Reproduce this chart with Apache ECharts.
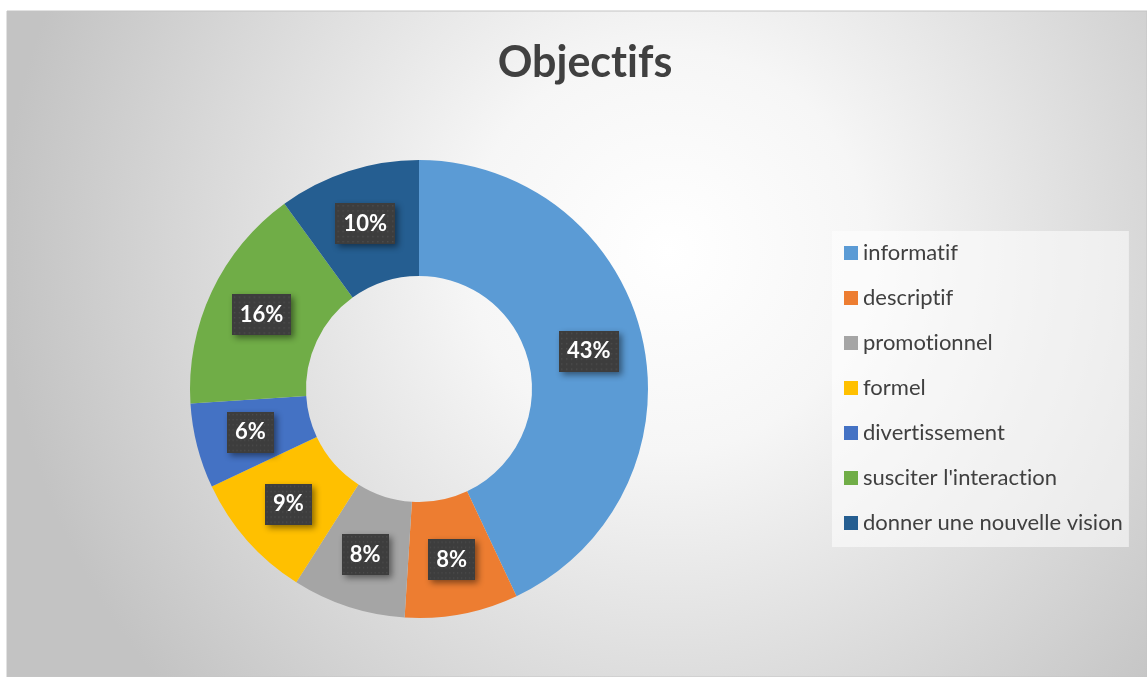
<!DOCTYPE html>
<html>
<head>
<meta charset="utf-8">
<script src="https://cdn.jsdelivr.net/npm/echarts@6/dist/echarts.min.js"></script>
<style>
html,body{margin:0;padding:0;background:#ffffff;}
#chart{width:1147px;height:677px;}
</style>
</head>
<body>
<div id="chart"></div>
<script>
const titleText = 'Objectifs';
const categories = ['informatif', 'descriptif', 'promotionnel', 'formel', 'divertissement', "susciter l'interaction", 'donner une nouvelle vision'];
const values = [43, 8, 8, 9, 6, 16, 10];
const colors = ['#5B9BD5', '#ED7D31', '#A5A5A5', '#FFC000', '#4472C4', '#70AD47', '#255E91'];

// break the Lato "ti" ligature (reference font has none)
const noLig = s => s.replace(/t(?=i)/g, 't\u200C');

// dotted dark label background
function makePattern() {
  const c = document.createElement('canvas');
  c.width = 60; c.height = 40;
  const g = c.getContext('2d');
  g.fillStyle = '#3d3d3d';
  g.fillRect(0, 0, 60, 40);
  g.fillStyle = '#4d4d4d';
  for (let y = 2; y < 40; y += 5) {
    for (let x = 2; x < 60; x += 5) {
      g.fillRect(x, y, 1.5, 1.5);
    }
  }
  return c;
}
const pattern = makePattern();

const chart = echarts.init(document.getElementById('chart'), null, {renderer: 'canvas'});
const font = 'Lato, "Open Sans", sans-serif';

chart.setOption({
  animation: false,
  graphic: [{
    type: 'rect',
    z: -10,
    silent: true,
    shape: {x: 7, y: 11, width: 1140, height: 666},
    style: {
      fill: {
        type: 'radial', x: 0.58, y: 0.36, r: 1.0,
        colorStops: [
          {offset: 0, color: '#ffffff'},
          {offset: 0.3, color: '#f6f6f6'},
          {offset: 1, color: '#c3c3c3'}
        ]
      },
      stroke: '#c4c4c4',
      lineWidth: 1
    }
  }],
  title: {
    text: noLig(titleText),
    left: 580,
    top: 37,
    textAlign: 'center',
    textStyle: {fontFamily: font, fontSize: 43, fontWeight: 'bold', color: '#404040'}
  },
  legend: {
    orient: 'vertical',
    left: 832,
    top: 231,
    padding: [11, 6, 13, 12],
    itemWidth: 14,
    itemHeight: 14,
    itemGap: 23,
    icon: 'rect',
    backgroundColor: 'rgba(255,255,255,0.55)',
    formatter: name => noLig(name),
    textStyle: {fontFamily: font, fontSize: 22, color: '#404040'},
    data: categories
  },
  series: [{
    type: 'pie',
    center: [419, 389],
    radius: [113, 229],
    startAngle: 90,
    clockwise: true,
    avoidLabelOverlap: false,
    emphasis: {disabled: true},
    label: {
      show: true,
      position: 'inside',
      formatter: p => Math.round(p.percent) + '%',
      fontFamily: font,
      fontSize: 22,
      fontWeight: 'bold',
      color: '#ffffff',
      backgroundColor: {image: pattern},
      padding: [10, 8, 9, 8],
      shadowColor: 'rgba(0,0,0,0.45)',
      shadowBlur: 6,
      shadowOffsetX: 3,
      shadowOffsetY: 3
    },
    labelLine: {show: false},
    data: categories.map((c, i) => ({name: c, value: values[i], itemStyle: {color: colors[i]}}))
  }]
});
</script>
</body>
</html>
